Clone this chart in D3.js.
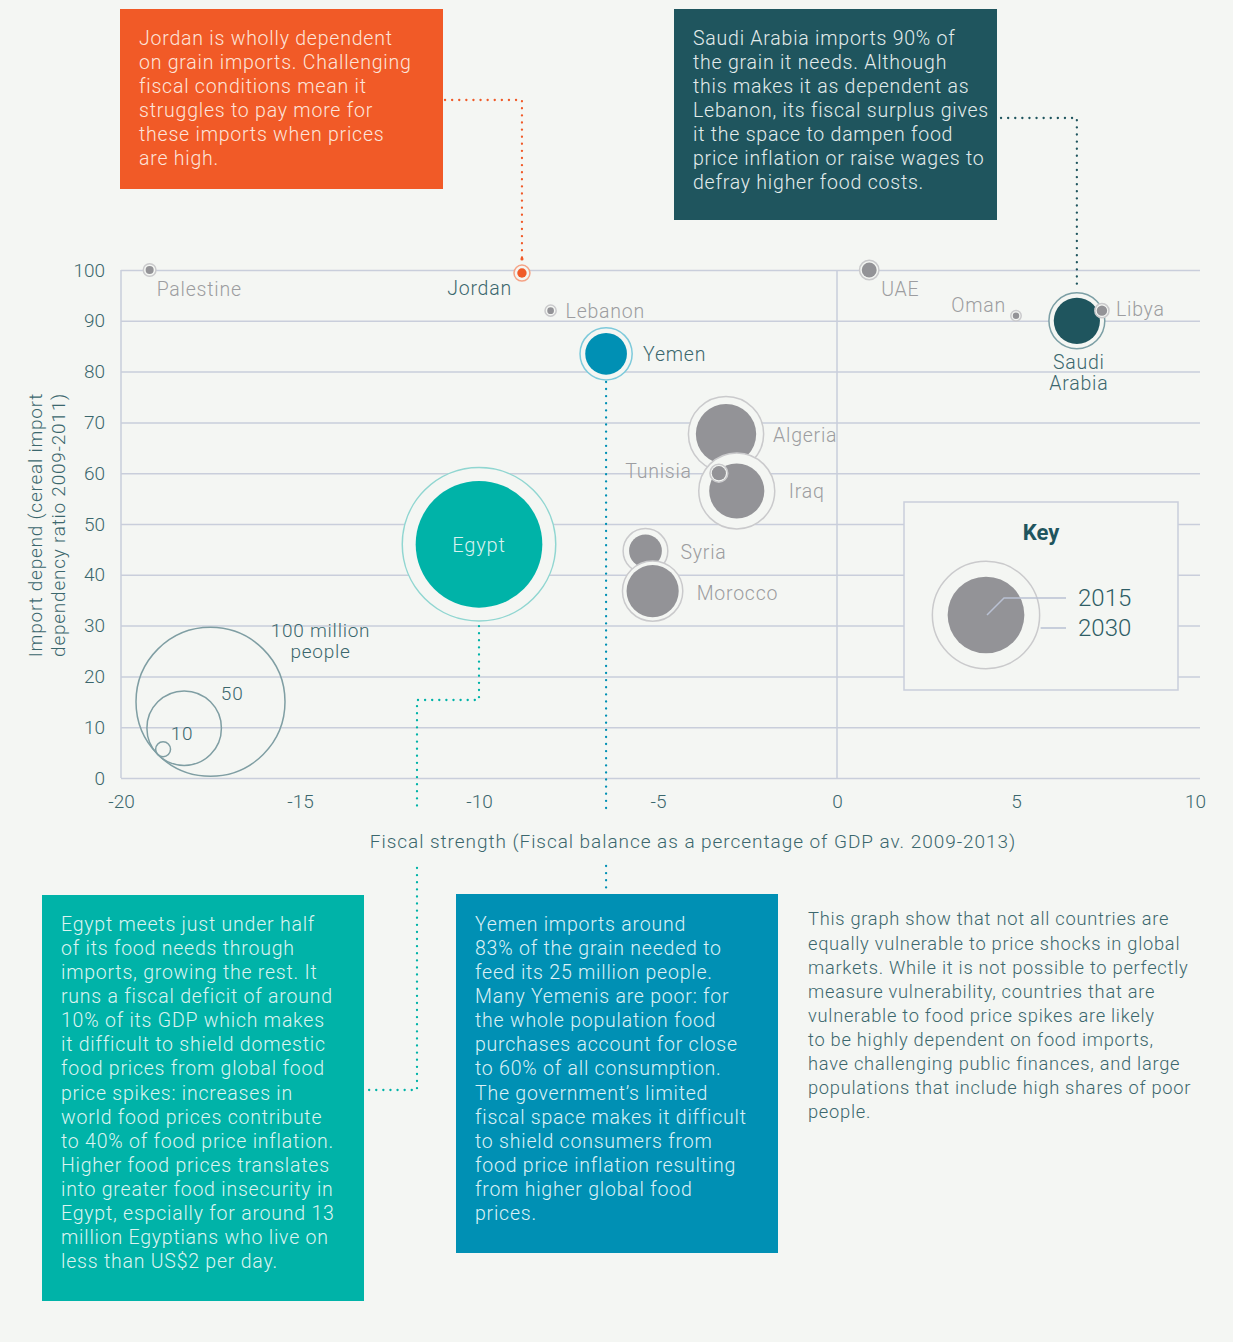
<!DOCTYPE html>
<html>
<head>
<meta charset="utf-8">
<script src="https://cdn.jsdelivr.net/npm/d3@7"></script>
<style>
  body { margin: 0; background: #f4f6f3; }
  text { font-family: Roboto, "Open Sans", sans-serif; font-weight: 300; letter-spacing: 0.04em; }
  .tick text, text.year { letter-spacing: 0; }
</style>
</head>
<body>
<script>
const width = 1233;
const height = 1342;

// data
const countries = ["Palestine", "Jordan", "Lebanon", "Yemen", "UAE", "Oman", "Saudi Arabia", "Libya",
  "Algeria", "Iraq", "Tunisia", "Syria", "Morocco", "Egypt"];
const fiscalBalance = [-19.2, -8.8, -8.0, -6.45, 0.9, 5.0, 6.7, 7.4, -3.1, -2.8, -3.3, -5.35, -5.15, -10];
const importDependency = [100, 99.4, 92, 83.5, 100, 91, 90, 92, 67.7, 56.5, 60, 44.7, 36.8, 46];
const pop2015 = [5.4, 6.3, 4.5, 28, 10, 4.3, 31, 7, 40.5, 37, 9.5, 22, 35, 85];
const pop2030 = [8.5, 10.7, 7.5, 35, 13, 7, 37.5, 9.5, 50.5, 51, 12, 30, 40.5, 103];

const xTicks = [-20, -15, -10, -5, 0, 5, 10];
const yTicks = [0, 10, 20, 30, 40, 50, 60, 70, 80, 90, 100];
const legendPop = [100, 50, 10];
const keyPop = [51.5, 72];
const keyYears = ["2015", "2030"];

const xTitle = "Fiscal strength (Fiscal balance as a percentage of GDP av. 2009-2013)";
const yTitle = ["Import depend (cereal import", "dependency ratio 2009-2011)"];

const jordanNote = ["Jordan is wholly dependent", "on grain imports. Challenging", "fiscal conditions mean it",
  "struggles to pay more for", "these imports when prices", "are high."];
const saudiNote = ["Saudi Arabia imports 90% of", "the grain it needs. Although", "this makes it as dependent as",
  "Lebanon, its fiscal surplus gives", "it the space to dampen food", "price inflation or raise wages to",
  "defray higher food costs."];
const egyptNote = ["Egypt meets just under half", "of its food needs through", "imports, growing the rest. It",
  "runs a fiscal deficit of around", "10% of its GDP which makes", "it difficult to shield domestic",
  "food prices from global food", "price spikes: increases in", "world food prices contribute",
  "to 40% of food price inflation.", "Higher food prices translates", "into greater food insecurity in",
  "Egypt, espcially for around 13", "million Egyptians who live on", "less than US$2 per day."];
const yemenNote = ["Yemen imports around", "83% of the grain needed to", "feed its 25 million people.",
  "Many Yemenis are poor: for", "the whole population food", "purchases account for close",
  "to 60% of all consumption.", "The government\u2019s limited", "fiscal space makes it difficult",
  "to shield consumers from", "food price inflation resulting", "from higher global food", "prices."];
const summary = ["This graph show that not all countries are", "equally vulnerable to price shocks in global",
  "markets. While it is not possible to perfectly", "measure vulnerability, countries that are",
  "vulnerable to food price spikes are likely", "to be highly dependent on food imports,",
  "have challenging public finances, and large", "populations that include high shares of poor", "people."];

// colours
const bg = "#f4f6f3";
const grid = "#c9cedb";
const ink = "#3b676d";
const gray = "#939397";
const grayLabel = "#9c9da0";
const styles = {
  Jordan: { fill: "#f05a28", ring: "#f5a386", label: ink },
  Yemen: { fill: "#0090b4", ring: "#7dcadb", label: ink },
  "Saudi Arabia": { fill: "#1f555e", ring: "#7c9fa5", label: ink },
  Egypt: { fill: "#00b3a8", ring: "#90d6d1", label: "#d9f2ef" }
};
const defaultStyle = { fill: gray, ring: "#cacacc", label: grayLabel };

// label placement relative to the bubble centre
const labelPlace = {
  Palestine: { dx: 7, dy: 19, anchor: "start" },
  Jordan: { dx: -10, dy: 15, anchor: "end" },
  Lebanon: { dx: 15, dy: 1, anchor: "start" },
  Yemen: { dx: 37, dy: 0, anchor: "start" },
  UAE: { dx: 12, dy: 19, anchor: "start" },
  Oman: { dx: -10, dy: -11, anchor: "end" },
  "Saudi Arabia": { dx: 2, dy: 41, anchor: "middle", lines: ["Saudi", "Arabia"] },
  Libya: { dx: 14, dy: -1, anchor: "start" },
  Algeria: { dx: 47, dy: 1, anchor: "start" },
  Iraq: { dx: 52, dy: 0, anchor: "start" },
  Tunisia: { dx: -27, dy: -2, anchor: "end" },
  Syria: { dx: 35, dy: 1, anchor: "start" },
  Morocco: { dx: 44, dy: 2, anchor: "start" },
  Egypt: { dx: 0, dy: 1, anchor: "middle", size: 20 }
};

const x = d3.scaleLinear().domain([-20, 10]).range([121, 1195]);
const y = d3.scaleLinear().domain([0, 100]).range([778, 270]);
const r = d3.scaleLinear().domain([0, 100]).range([0, 74.5]);

const svg = d3.select("body")
  .append("svg")
  .attr("width", width)
  .attr("height", height);

svg.append("rect").attr("width", width).attr("height", height).attr("fill", bg);

// grid + y axis
const yAxis = svg.append("g")
  .attr("transform", `translate(${x(-20)},0)`)
  .call(d3.axisLeft(y).tickValues(yTicks).tickSize(-(x(10) - x(-20) + 5)).tickPadding(16));
yAxis.select(".domain").remove();
yAxis.selectAll(".tick line").attr("stroke", grid).attr("stroke-width", 1.5);
yAxis.selectAll(".tick text").attr("fill", ink).style("font-size", "19px");

const xAxis = svg.append("g")
  .attr("transform", `translate(0,${y(0)})`)
  .call(d3.axisBottom(x).tickValues(xTicks).tickSize(0).tickPadding(17).tickFormat(d => String(d)));
xAxis.select(".domain").remove();
xAxis.selectAll(".tick text").attr("fill", ink).style("font-size", "19px");

[-20, 0].forEach(v => {
  svg.append("line")
    .attr("x1", x(v)).attr("x2", x(v))
    .attr("y1", y(0)).attr("y2", y(100))
    .attr("stroke", grid).attr("stroke-width", 1.5);
});

// axis titles
svg.append("text")
  .attr("x", 693).attr("y", 841).attr("dy", "0.35em")
  .attr("text-anchor", "middle")
  .attr("fill", ink).style("font-size", "19px").style("letter-spacing", "0.05em")
  .text(xTitle);

svg.append("g")
  .attr("transform", `translate(35,${y(50) + 1}) rotate(-90)`)
  .selectAll("text")
  .data(yTitle)
  .enter()
  .append("text")
  .attr("x", 0).attr("y", (d, i) => i * 23).attr("dy", "0.35em")
  .attr("text-anchor", "middle")
  .attr("fill", ink).style("font-size", "19px")
  .text(d => d);

// dotted leaders
const dotted = (pts, colour) => {
  svg.append("path")
    .attr("d", d3.line()(pts))
    .attr("fill", "none")
    .attr("stroke", colour)
    .attr("stroke-width", 2.3)
    .attr("stroke-linecap", "round")
    .attr("stroke-dasharray", "0.1 7");
};
const iJ = countries.indexOf("Jordan");
const iS = countries.indexOf("Saudi Arabia");
const iY = countries.indexOf("Yemen");
const iE = countries.indexOf("Egypt");

dotted([[445, 100], [x(fiscalBalance[iJ]), 100], [x(fiscalBalance[iJ]), 262]], "#f05a28");
dotted([[1001, 118], [x(fiscalBalance[iS]), 118], [x(fiscalBalance[iS]), y(importDependency[iS]) - r(pop2030[iS]) - 6]], "#1f555e");
dotted([[x(fiscalBalance[iY]), y(importDependency[iY]) + r(pop2030[iY]) + 2], [x(fiscalBalance[iY]), 810]], "#0090b4");
dotted([[x(fiscalBalance[iY]), 866], [x(fiscalBalance[iY]), 890]], "#0090b4");
dotted([[x(fiscalBalance[iE]), y(importDependency[iE]) + r(pop2030[iE]) + 5], [x(fiscalBalance[iE]), 700], [417, 700], [417, 812]], "#00b3a8");
dotted([[417, 868], [417, 1090], [367, 1090]], "#00b3a8");

// bubbles
const data = countries.map((c, i) => ({
  name: c, fx: fiscalBalance[i], dep: importDependency[i], p15: pop2015[i], p30: pop2030[i]
}));

const bub = svg.selectAll("g.bubble")
  .data(data)
  .enter()
  .append("g")
  .attr("class", "bubble")
  .attr("transform", d => `translate(${x(d.fx)},${y(d.dep)})`);

bub.append("circle")
  .attr("r", d => r(d.p30))
  .attr("fill", bg)
  .attr("stroke", d => (styles[d.name] || defaultStyle).ring)
  .attr("stroke-width", 1.5);

bub.append("circle")
  .attr("r", d => r(d.p15))
  .attr("fill", d => (styles[d.name] || defaultStyle).fill);

svg.append("circle")
  .attr("cx", x(fiscalBalance[iJ])).attr("cy", 259).attr("r", 1.6)
  .attr("fill", "#f05a28");

// country labels
data.forEach(d => {
  const p = labelPlace[d.name];
  const st = styles[d.name] || defaultStyle;
  const t = svg.append("text")
    .attr("x", x(d.fx) + p.dx)
    .attr("y", y(d.dep) + p.dy)
    .attr("text-anchor", p.anchor)
    .attr("fill", st.label)
    .style("font-size", (p.size || 19.5) + "px");
  (p.lines || [d.name]).forEach((line, i) => {
    t.append("tspan")
      .attr("x", x(d.fx) + p.dx)
      .attr("dy", i === 0 ? "0.35em" : "1.12em")
      .text(line);
  });
});

// size legend
const lx = x(-17.5), ly = y(15);
const R = r(legendPop[0]);
const legendLabelOffsets = [[110, -71], [48, -35], [19, -16]];
legendPop.forEach((p, i) => {
  const k = (R - r(p)) * Math.SQRT1_2;
  const cx = lx - k, cy = ly + k;
  svg.append("circle")
    .attr("cx", cx).attr("cy", cy).attr("r", r(p))
    .attr("fill", "none").attr("stroke", "#7f9ea3").attr("stroke-width", 1.5);
  const t = svg.append("text")
    .attr("x", cx + legendLabelOffsets[i][0])
    .attr("y", cy + legendLabelOffsets[i][1])
    .attr("text-anchor", "middle")
    .attr("fill", ink)
    .style("font-size", "19px");
  const lines = i === 0 ? [p + " million", "people"] : [String(p)];
  lines.forEach((line, j) => {
    t.append("tspan")
      .attr("x", cx + legendLabelOffsets[i][0])
      .attr("dy", j === 0 ? "0.35em" : "1.1em")
      .text(line);
  });
});

// key box
const key = svg.append("g").attr("transform", "translate(904,502)");
key.append("rect")
  .attr("width", 274).attr("height", 188)
  .attr("fill", bg).attr("stroke", grid).attr("stroke-width", 1.5);
key.append("text")
  .attr("x", 137).attr("y", 30).attr("dy", "0.35em")
  .attr("text-anchor", "middle")
  .attr("fill", "#1f555e")
  .style("font-size", "22px").style("font-weight", 700).style("letter-spacing", "0")
  .text("Key");
const kc = [82, 113];
key.append("circle").attr("cx", kc[0]).attr("cy", kc[1]).attr("r", r(keyPop[1]))
  .attr("fill", bg).attr("stroke", "#cacacc").attr("stroke-width", 1.5);
key.append("circle").attr("cx", kc[0]).attr("cy", kc[1]).attr("r", r(keyPop[0]))
  .attr("fill", gray);
key.append("path")
  .attr("d", d3.line()([[kc[0] + 1, kc[1]], [kc[0] + 18, kc[1] - 17], [162, kc[1] - 17]]))
  .attr("fill", "none").attr("stroke", "#b9c1d3").attr("stroke-width", 1.5);
key.append("path")
  .attr("d", d3.line()([[kc[0] + r(keyPop[1]) + 1, kc[1] + 13], [162, kc[1] + 13]]))
  .attr("fill", "none").attr("stroke", "#b9c1d3").attr("stroke-width", 1.5);
key.selectAll("text.year")
  .data(keyYears)
  .enter()
  .append("text")
  .attr("class", "year")
  .attr("x", 174)
  .attr("y", (d, i) => kc[1] - 17 + i * 30)
  .attr("dy", "0.35em")
  .attr("fill", "#2e5d65")
  .style("font-size", "24px")
  .text(d => d);

// annotation boxes
const noteBox = (bx, by, bw, bh, fill, colour, lines, firstY, size) => {
  svg.append("rect").attr("x", bx).attr("y", by).attr("width", bw).attr("height", bh).attr("fill", fill);
  svg.append("g").selectAll("text")
    .data(lines)
    .enter()
    .append("text")
    .attr("x", bx + 19)
    .attr("y", (d, i) => firstY + i * 24.1)
    .attr("dy", "0.35em")
    .attr("fill", colour)
    .style("font-size", size + "px")
    .text(d => d);
};
noteBox(120, 9, 323, 180, "#f15a27", "#fde4da", jordanNote, 38, 19.5);
noteBox(674, 9, 323, 211, "#1f555e", "#e3ecec", saudiNote, 38, 19.5);
noteBox(42, 895, 322, 406, "#00b3a8", "#dcf4f1", egyptNote, 924, 19.5);
noteBox(456, 894, 322, 359, "#0090b4", "#dcf0f6", yemenNote, 924, 19.5);

svg.append("g").selectAll("text")
  .data(summary)
  .enter()
  .append("text")
  .attr("x", 808)
  .attr("y", (d, i) => 919 + i * 24.1)
  .attr("dy", "0.35em")
  .attr("fill", ink)
  .style("font-size", "18.3px")
  .text(d => d);
</script>
</body>
</html>
